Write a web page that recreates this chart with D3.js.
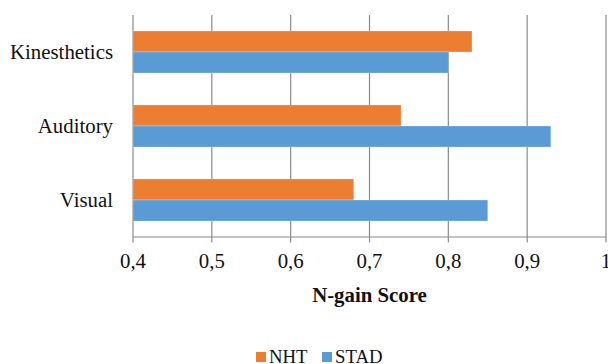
<!DOCTYPE html>
<html><head><meta charset="utf-8">
<script src="https://cdn.jsdelivr.net/npm/d3@7"></script>
<style>body{margin:0;background:#fff}svg{display:block}</style>
</head><body>
<div id="chart"></div>
<script>
const categories = ["Kinesthetics", "Auditory", "Visual"];
const seriesNames = ["NHT", "STAD"];
const nhtValues = [0.83, 0.74, 0.68];
const stadValues = [0.80, 0.93, 0.85];
const tickValues = [0.4, 0.5, 0.6, 0.7, 0.8, 0.9, 1.0];
const tickLabels = ["0,4", "0,5", "0,6", "0,7", "0,8", "0,9", "1"];
const colors = {NHT: "#ED7D31", STAD: "#5B9BD5"};

// pick an installed serif font
const ctx = document.createElement("canvas").getContext("2d");
function installed(name) {
  const s = "Kinesthetics N-gain Score 0,4 WMmil";
  for (const base of ["monospace", "sans-serif", "serif"]) {
    ctx.font = `40px ${base}`; const w0 = ctx.measureText(s).width;
    ctx.font = `40px "${name}", ${base}`; const w1 = ctx.measureText(s).width;
    if (Math.abs(w0 - w1) > 0.5) return true;
  }
  return false;
}
const candidates = ["Liberation Serif", "Times New Roman", "Tinos", "Nimbus Roman", "Noto Serif", "DejaVu Serif"];
const chosen = candidates.find(installed) || "serif";
const FONT = `"${chosen}", serif`;
ctx.font = `20px ${FONT}`;
const kw = ctx.measureText("Kinesthetics").width;
const scaleF = Math.min(1.1, 103 / kw);
const fs = v => (v * scaleF).toFixed(2);

const W = 608, H = 364;
const m = {left: 133, right: 2, top: 15, bottom: 127};
const svg = d3.select("#chart").append("svg").attr("width", W).attr("height", H)
  .attr("font-family", FONT);

const x = d3.scaleLinear().domain([0.4, 1.0]).range([m.left, W - m.right]);
const y = d3.scaleBand().domain(categories).range([m.top, H - m.bottom]).paddingInner(0.432).paddingOuter(0.216);
const ySub = d3.scaleBand().domain(seriesNames).range([0, y.bandwidth()]);

const rows = categories.map((c, i) => ({cat: c, NHT: nhtValues[i], STAD: stadValues[i]}));

// gridlines
svg.append("g").selectAll("line").data(tickValues).join("line")
  .attr("x1", d => x(d)).attr("x2", d => x(d))
  .attr("y1", m.top).attr("y2", H - m.bottom + 5.5)
  .attr("stroke", "#8a8a8a").attr("stroke-width", 1.2);

// bars
const g = svg.append("g");
rows.forEach(r => {
  seriesNames.forEach(s => {
    g.append("rect")
      .attr("x", x(0.4)).attr("y", y(r.cat) + ySub(s))
      .attr("width", x(r[s]) - x(0.4)).attr("height", ySub.bandwidth())
      .attr("fill", colors[s])
      .attr("stroke", "rgba(255,255,255,0.3)").attr("stroke-width", 0.8);
  });
});

// bottom axis line
svg.append("line").attr("x1", m.left).attr("x2", W - m.right)
  .attr("y1", H - m.bottom).attr("y2", H - m.bottom)
  .attr("stroke", "#8a8a8a").attr("stroke-width", 1.2);

// x tick labels
svg.append("g").selectAll("text").data(tickValues).join("text")
  .attr("x", d => x(d)).attr("y", 268)
  .attr("text-anchor", "middle").attr("font-size", fs(20)).attr("fill", "#111")
  .text((d, i) => tickLabels[i]);

// category labels
svg.append("g").selectAll("text").data(categories).join("text")
  .attr("x", m.left - 20).attr("y", d => y(d) + y.bandwidth() / 2 + 7)
  .attr("text-anchor", "end").attr("font-size", fs(20)).attr("fill", "#111")
  .text(d => d);

// axis title
svg.append("text").attr("x", (m.left + W - m.right) / 2).attr("y", 302)
  .attr("text-anchor", "middle").attr("font-size", fs(20)).attr("font-weight", "bold").attr("fill", "#111")
  .text("N-gain Score");

// legend
const legendItems = [{name: "NHT", x: 256}, {name: "STAD", x: 322}];
const lg = svg.append("g");
legendItems.forEach(it => {
  lg.append("rect").attr("x", it.x).attr("y", 352).attr("width", 10).attr("height", 10).attr("fill", colors[it.name]);
  lg.append("text").attr("x", it.x + 13).attr("y", 362.5).attr("font-size", fs(18)).attr("fill", "#111")
    .text(it.name);
});
</script>
</body></html>
